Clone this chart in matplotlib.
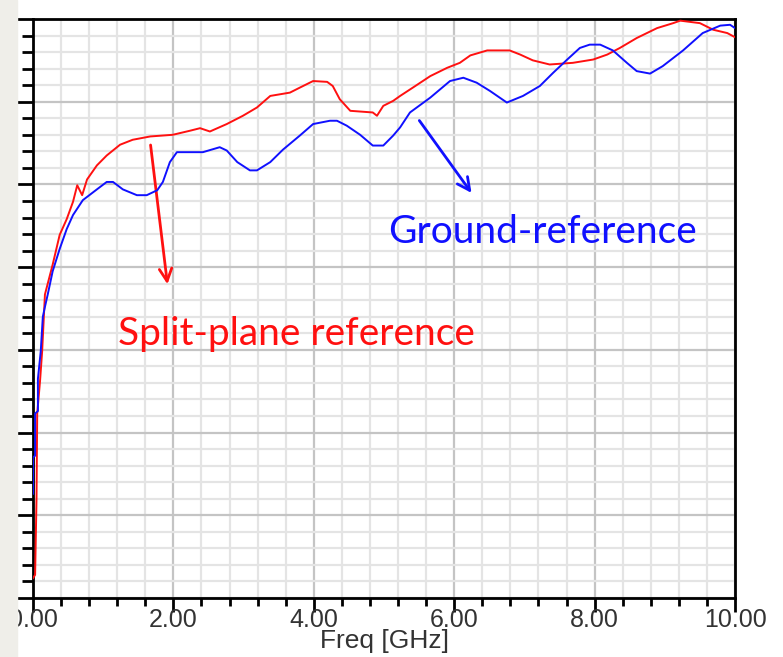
import matplotlib.pyplot as plt
from matplotlib.patches import Rectangle
from matplotlib.ticker import MultipleLocator, NullFormatter

# Split-plane reference (red)
red_f = [0.0, 0.03, 0.05, 0.06, 0.10, 0.13, 0.17, 0.28, 0.38, 0.48, 0.57, 0.63, 0.70,
         0.77, 0.91, 1.05, 1.24, 1.42, 1.67, 1.99, 2.24, 2.38, 2.52, 2.76, 2.99, 3.19,
         3.38, 3.66, 3.80, 3.99, 4.19, 4.27, 4.37, 4.52, 4.84, 4.90, 4.99, 5.13, 5.23,
         5.41, 5.66, 5.90, 6.08, 6.23, 6.47, 6.79, 6.94, 7.12, 7.36, 7.69, 7.98, 8.18,
         8.36, 8.60, 8.89, 9.12, 9.22, 9.50, 9.69, 9.89, 10.0]
red_v = [0.24, 0.28, 1.20, 2.23, 2.62, 2.98, 3.67, 4.03, 4.39, 4.58, 4.79, 4.99, 4.87,
         5.06, 5.23, 5.35, 5.48, 5.54, 5.58, 5.60, 5.65, 5.68, 5.64, 5.73, 5.83, 5.93,
         6.07, 6.11, 6.17, 6.25, 6.24, 6.19, 6.03, 5.89, 5.87, 5.83, 5.95, 6.01, 6.07,
         6.17, 6.31, 6.41, 6.47, 6.56, 6.62, 6.62, 6.57, 6.50, 6.45, 6.47, 6.51, 6.57,
         6.65, 6.77, 6.89, 6.95, 6.98, 6.95, 6.87, 6.83, 6.78]

# Ground-reference (blue)
blue_f = [0.0, 0.0, 0.03, 0.03, 0.07, 0.07, 0.11, 0.14, 0.17, 0.21, 0.28, 0.38, 0.48,
          0.57, 0.71, 0.91, 1.05, 1.14, 1.28, 1.48, 1.62, 1.77, 1.85, 1.95, 2.05, 2.24,
          2.42, 2.66, 2.76, 2.91, 3.09, 3.19, 3.38, 3.56, 3.80, 3.99, 4.23, 4.33, 4.47,
          4.66, 4.84, 4.99, 5.13, 5.23, 5.37, 5.66, 5.94, 6.13, 6.32, 6.51, 6.75, 6.98,
          7.22, 7.41, 7.61, 7.79, 7.93, 8.08, 8.26, 8.46, 8.60, 8.79, 8.97, 9.26, 9.54,
          9.79, 9.93, 10.0]
blue_v = [1.26, 1.70, 1.72, 2.23, 2.26, 2.65, 2.98, 3.40, 3.52, 3.67, 3.95, 4.22, 4.46,
          4.63, 4.81, 4.94, 5.03, 5.03, 4.94, 4.87, 4.87, 4.93, 5.03, 5.27, 5.39, 5.39,
          5.39, 5.45, 5.41, 5.27, 5.17, 5.17, 5.27, 5.42, 5.59, 5.73, 5.77, 5.77, 5.71,
          5.60, 5.47, 5.47, 5.59, 5.69, 5.87, 6.05, 6.25, 6.29, 6.23, 6.13, 5.99, 6.07,
          6.19, 6.35, 6.51, 6.65, 6.69, 6.69, 6.62, 6.47, 6.37, 6.34, 6.43, 6.62, 6.83,
          6.92, 6.93, 6.89]

x_ticks = [0, 2, 4, 6, 8, 10]
x_labels = ["0.00", "2.00", "4.00", "6.00", "8.00", "10.00"]

fig = plt.figure(figsize=(7.83, 6.57), dpi=100)
ax = fig.add_axes([33 / 783, 59 / 657, 702 / 783, 579 / 657])

ax.plot(red_f, red_v, color="#ff1010", lw=1.4, zorder=3)
ax.plot(blue_f, blue_v, color="#1010ff", lw=1.4, zorder=4)

ax.set_xlim(0, 10)
ax.set_ylim(0, 7)
ax.xaxis.set_major_locator(MultipleLocator(2))
ax.xaxis.set_minor_locator(MultipleLocator(0.4))
ax.yaxis.set_major_locator(MultipleLocator(1))
ax.yaxis.set_minor_locator(MultipleLocator(0.2))
ax.set_xticks(x_ticks)
ax.set_xticklabels(x_labels, family="Liberation Sans")
ax.yaxis.set_major_formatter(NullFormatter())

ax.grid(which="major", color="#c4c4c4", lw=1.6)
ax.grid(which="minor", color="#e4e4e4", lw=1.6)
ax.set_axisbelow(True)

for s in ax.spines.values():
    s.set_linewidth(2)
    s.set_color("black")

ax.tick_params(axis="x", which="major", length=10, width=2, labelsize=18,
               labelcolor="#333333", pad=-3)
ax.tick_params(axis="x", which="minor", length=6, width=2)
ax.tick_params(axis="y", which="major", length=13, width=2)
ax.tick_params(axis="y", which="minor", length=8, width=2)
ax.set_xlabel("Freq [GHz]", fontsize=19, color="#333333", labelpad=-2,
              family="Liberation Sans")

ax.annotate("", xy=(1.92, 3.76), xytext=(1.67, 5.51),
            arrowprops=dict(arrowstyle="->,head_length=0.9,head_width=0.45",
                            color="#ff1010", lw=2))
ax.annotate("", xy=(6.27, 4.87), xytext=(5.48, 5.80),
            arrowprops=dict(arrowstyle="->,head_length=0.9,head_width=0.45",
                            color="#1010ff", lw=2))

ax.text(1.21, 3.19, "Split-plane reference", color="#ff1010", fontsize=28,
        family="Lato", va="center", ha="left")
ax.text(5.06, 4.43, "Ground-reference", color="#1010ff", fontsize=28,
        family="Lato", va="center", ha="left")

fig.patches.append(Rectangle((0, 0), 17 / 783, 1, transform=fig.transFigure,
                             color="#efeee9", zorder=10))

fig.savefig("out.png", dpi=100)
